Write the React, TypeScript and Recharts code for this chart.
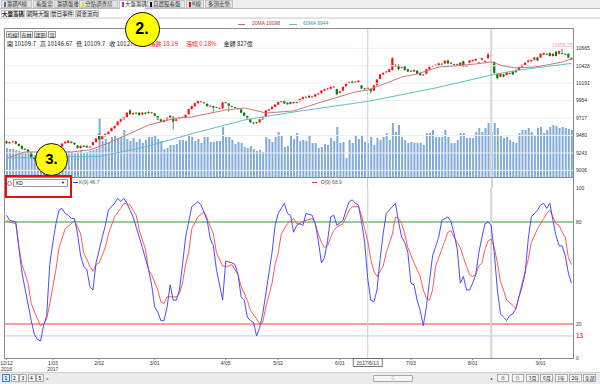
import React from 'react';
import { ComposedChart, Bar, Line, XAxis, YAxis, ReferenceLine, ReferenceDot } from 'recharts';

// ---------- DATA ----------
const opens = [
  9400, 9375, 9392, 9400, 9365, 9340, 9300, 9290, 9250, 9180,
  9160, 9190, 9175, 9210, 9230, 9250, 9270, 9300, 9330, 9375,
  9380, 9395, 9380, 9345, 9310, 9340, 9340, 9320, 9350, 9390,
  9490, 9430, 9470, 9500, 9540, 9580, 9620, 9670, 9700, 9730,
  9820, 9770, 9790, 9790, 9765, 9790, 9800, 9785, 9780, 9745,
  9700, 9665, 9700, 9720, 9735, 9680, 9710, 9725, 9730, 9770,
  9840, 9880, 9920, 9935, 9930, 9910, 9880, 9880, 9860, 9855,
  9850, 9930, 9915, 9880, 9865, 9850, 9835, 9790, 9745, 9700,
  9655, 9660, 9660, 9700, 9730, 9820, 9840, 9870, 9900, 9935,
  9950, 9925, 9935, 9920, 9935, 9945, 9975, 9995, 10020, 10000,
  10010, 10040, 10055, 10090, 10110, 10115, 10140, 10110, 10060, 10090,
  10150, 10190, 10215, 10200, 10205, 10160, 10120, 10109.7, 10110, 10090,
  10165, 10250, 10310, 10340, 10345, 10370, 10420, 10440, 10400, 10420,
  10380, 10360, 10350, 10360, 10330, 10300, 10320, 10380, 10420, 10430,
  10430, 10455, 10460, 10500, 10455, 10450, 10445, 10430, 10490, 10420,
  10470, 10490, 10500, 10460, 10510, 10480, 10530, 10570, 10480, 10320,
  10280, 10310, 10300, 10320, 10350, 10340, 10370, 10410, 10440, 10480,
  10490, 10510, 10540, 10540, 10580, 10590, 10600, 10560, 10620, 10590,
  10600, 10590, 10590, 10515,
];
const closes = [
  9375, 9390, 9400, 9370, 9340, 9300, 9290, 9250, 9180, 9160,
  9190, 9175, 9210, 9230, 9250, 9270, 9300, 9330, 9370, 9395,
  9410, 9380, 9360, 9310, 9340, 9330, 9320, 9330, 9390, 9440,
  9430, 9470, 9500, 9530, 9580, 9610, 9670, 9700, 9730, 9790,
  9770, 9785, 9780, 9760, 9790, 9775, 9785, 9795, 9750, 9700,
  9670, 9690, 9725, 9750, 9670, 9700, 9725, 9730, 9760, 9840,
  9880, 9920, 9950, 9945, 9920, 9880, 9885, 9860, 9865, 9845,
  9930, 9925, 9885, 9870, 9855, 9840, 9790, 9750, 9700, 9660,
  9645, 9650, 9700, 9730, 9820, 9835, 9870, 9900, 9935, 9945,
  9915, 9905, 9910, 9935, 9925, 9975, 10000, 10005, 9995, 10010,
  10040, 10050, 10090, 10110, 10120, 10140, 10145, 10040, 10080, 10140,
  10190, 10205, 10190, 10210, 10225, 10120, 10110, 10127.89, 10080, 10160,
  10240, 10310, 10330, 10350, 10380, 10530, 10440, 10380, 10410, 10370,
  10350, 10350, 10370, 10320, 10300, 10310, 10380, 10410, 10430, 10440,
  10460, 10450, 10495, 10460, 10470, 10440, 10450, 10470, 10420, 10430,
  10500, 10505, 10520, 10470, 10530, 10490, 10580, 10560, 10330, 10260,
  10320, 10280, 10340, 10330, 10310, 10370, 10410, 10440, 10470, 10500,
  10505, 10540, 10500, 10590, 10600, 10580, 10560, 10590, 10560, 10625,
  10590, 10580, 10540, 10535,
];
const highs = [
  9415, 9400, 9410, 9405, 9372, 9345, 9310, 9295, 9258, 9190,
  9198, 9200, 9218, 9240, 9258, 9280, 9310, 9338, 9378, 9402,
  9420, 9405, 9388, 9352, 9348, 9350, 9345, 9338, 9398, 9450,
  9510, 9478, 9508, 9538, 9590, 9618, 9678, 9710, 9738, 9800,
  9840, 9795, 9800, 9798, 9798, 9800, 9810, 9802, 9788, 9752,
  9708, 9698, 9732, 9758, 9742, 9708, 9732, 9738, 9768, 9848,
  9888, 9928, 9962, 9955, 9938, 9918, 9892, 9886, 9872, 9862,
  9938, 9940, 9922, 9888, 9872, 9858, 9842, 9798, 9752, 9708,
  9662, 9668, 9708, 9738, 9828, 9842, 9878, 9908, 9942, 9955,
  9958, 9932, 9942, 9942, 9942, 9982, 10008, 10012, 10028, 10018,
  10048, 10058, 10098, 10118, 10128, 10148, 10155, 10118, 10088, 10148,
  10198, 10212, 10222, 10218, 10232, 10168, 10128, 10146.67, 10118, 10168,
  10248, 10318, 10338, 10358, 10388, 10545, 10452, 10448, 10418, 10428,
  10388, 10368, 10378, 10368, 10338, 10318, 10388, 10418, 10438, 10448,
  10468, 10462, 10502, 10508, 10478, 10458, 10458, 10478, 10498, 10438,
  10508, 10512, 10528, 10478, 10538, 10498, 10610, 10585, 10485, 10328,
  10328, 10318, 10348, 10338, 10358, 10378, 10418, 10448, 10478, 10508,
  10512, 10548, 10548, 10598, 10608, 10598, 10608, 10598, 10628, 10632,
  10656.25, 10598, 10598, 10542,
];
const lows = [
  9365, 9368, 9385, 9360, 9330, 9290, 9280, 9240, 9165, 9140,
  9150, 9165, 9170, 9200, 9222, 9245, 9262, 9295, 9325, 9368,
  9375, 9372, 9350, 9300, 9302, 9322, 9312, 9315, 9345, 9385,
  9420, 9425, 9465, 9495, 9535, 9572, 9612, 9662, 9695, 9725,
  9762, 9760, 9772, 9750, 9758, 9768, 9778, 9778, 9742, 9692,
  9660, 9655, 9692, 9715, 9560, 9672, 9702, 9718, 9722, 9762,
  9832, 9872, 9912, 9925, 9912, 9872, 9872, 9790, 9852, 9838,
  9842, 9918, 9800, 9862, 9848, 9832, 9782, 9742, 9692, 9652,
  9630, 9640, 9652, 9692, 9722, 9812, 9832, 9862, 9892, 9928,
  9908, 9898, 9902, 9912, 9918, 9938, 9968, 9988, 9988, 9992,
  10002, 10032, 10048, 10082, 10102, 10108, 10132, 10030, 10050, 10082,
  10142, 10182, 10182, 10192, 10198, 10112, 10098, 10109.7, 10050, 10082,
  10158, 10242, 10302, 10332, 10338, 10362, 10412, 10372, 10392, 10362,
  10342, 10342, 10342, 10312, 10292, 10292, 10312, 10372, 10412, 10422,
  10422, 10442, 10452, 10452, 10448, 10432, 10438, 10422, 10412, 10412,
  10462, 10482, 10492, 10452, 10502, 10472, 10522, 10550, 10322, 10240,
  10272, 10272, 10292, 10312, 10302, 10332, 10362, 10402, 10432, 10472,
  10482, 10502, 10492, 10532, 10572, 10572, 10552, 10552, 10552, 10582,
  10582, 10572, 10532, 10508,
];
// 成交金額 (億)
const volumes = [
  493, 476, 476, 459, 442, 425, 425, 408, 391, 374,
  374, 357, 374, 391, 408, 374, 391, 408, 425, 408,
  442, 425, 408, 425, 459, 408, 425, 442, 459, 476,
  1003, 612, 646, 595, 680, 714, 646, 680, 799, 646,
  612, 663, 595, 646, 578, 629, 680, 680, 697, 646,
  612, 476, 493, 544, 544, 561, 629, 629, 612, 731,
  680, 612, 646, 578, 680, 680, 595, 595, 612, 612,
  850, 680, 680, 629, 561, 595, 578, 510, 493, 527,
  476, 442, 459, 425, 680, 646, 595, 680, 765, 714,
  510, 527, 714, 646, 748, 612, 629, 612, 714, 578,
  578, 493, 510, 561, 544, 663, 612, 850, 578, 595,
  323, 629, 578, 714, 646, 714, 595, 578, 680, 544,
  663, 629, 680, 748, 629, 918, 765, 884, 680, 629,
  578, 595, 578, 578, 578, 544, 748, 748, 799, 680,
  680, 680, 799, 680, 578, 578, 629, 748, 748, 663,
  663, 663, 765, 833, 765, 833, 918, 765, 918, 833,
  714, 663, 680, 629, 595, 578, 748, 799, 799, 833,
  765, 714, 833, 850, 748, 799, 850, 884, 867, 833,
  850, 833, 816, 799,
];
// sparse readings [day index, value]
const ma20Points = [
  [0, 9175], [6, 9257], [21, 9257], [27, 9284], [33, 9379], [41, 9528], [46, 9623],
  [55, 9718], [60, 9732], [71, 9827], [77, 9854], [80, 9827], [84, 9786], [93, 9814],
  [102, 9936], [113, 10072], [117, 10098], [124, 10207], [128, 10275], [133, 10316],
  [137, 10370], [140, 10411], [145, 10425], [152, 10452], [157, 10479], [161, 10425],
  [165, 10397], [171, 10411], [175, 10438], [180, 10479], [183, 10520],
];
const ma60Points = [
  [0, 9175], [14, 9189], [30, 9195], [41, 9290], [46, 9340], [61, 9515], [77, 9691],
  [93, 9800], [117, 9944], [139, 10126], [157, 10302], [166, 10370], [183, 10460],
];
const kPoints = [
  [0, 84], [1, 81], [3, 80], [5, 50], [8, 22], [9, 14], [10, 11], [11, 10], [12, 19], [13, 25],
  [14, 55], [15, 68], [16, 79], [17, 87], [18, 88], [19, 85], [20, 84], [21, 82], [22, 82], [23, 73],
  [24, 60], [25, 54], [26, 52], [27, 42], [28, 40], [29, 56], [31, 71], [32, 78], [33, 87], [35, 91],
  [36, 94], [37, 92], [38, 94], [39, 91], [40, 87], [41, 83], [42, 77], [44, 65], [46, 52], [47, 43],
  [48, 30], [49, 27], [50, 22], [51, 22], [52, 30], [53, 43], [54, 34], [55, 34], [56, 40], [57, 55],
  [58, 71], [60, 89], [62, 92], [63, 90], [65, 81], [66, 70], [67, 66], [68, 52], [70, 34], [71, 57],
  [73, 56], [74, 55], [75, 49], [76, 36], [77, 34], [78, 24], [79, 22], [80, 21], [81, 13], [82, 18],
  [83, 26], [85, 50], [86, 62], [87, 78], [88, 85], [89, 88], [90, 91], [91, 85], [92, 84], [93, 74],
  [94, 78], [95, 79], [96, 78], [97, 85], [99, 84], [100, 79], [101, 69], [102, 56], [103, 59], [104, 69],
  [105, 83], [106, 84], [107, 78], [109, 81], [110, 87], [111, 92], [112, 93], [113, 91], [114, 90], [115, 80],
  [116, 68], [117, 46.7], [118, 34], [119, 33], [120, 40], [121, 58], [122, 73], [123, 85], [125, 89], [126, 91],
  [127, 80], [128, 71], [129, 68], [130, 62], [131, 44], [132, 43], [133, 34], [134, 28], [135, 19], [136, 30],
  [137, 45], [138, 60], [140, 71], [141, 81], [143, 83], [144, 80], [145, 73], [146, 64], [147, 44], [148, 48],
  [149, 40], [150, 40], [151, 44], [152, 49], [153, 62], [154, 71], [155, 79], [156, 80], [157, 78], [158, 62],
  [159, 40], [160, 26], [161, 24], [162, 22], [163, 25], [164, 26], [165, 29], [166, 36], [167, 42], [168, 50],
  [169, 70], [170, 83], [172, 87], [173, 90], [174, 91], [175, 88], [176, 91], [177, 81], [178, 72], [179, 66],
  [180, 66], [181, 60], [182, 50], [183, 44],
];
const dPoints = [
  [0, 81], [1, 80], [3, 79], [4, 65], [5, 55], [7, 44], [8, 32], [10, 23], [11, 19], [12, 20],
  [13, 23], [14, 32], [16, 52], [17, 65], [19, 76], [21, 79], [22, 81], [24, 73], [25, 62], [27, 54],
  [28, 51], [29, 55], [30, 56], [32, 65], [33, 73], [35, 83], [37, 88], [38, 91], [40, 90], [42, 84],
  [43, 75], [45, 64], [46, 52], [47, 49], [49, 40], [50, 33], [51, 32], [52, 36], [54, 36], [55, 36],
  [56, 38], [57, 44], [58, 55], [59, 62], [60, 76], [62, 83], [64, 86], [65, 82], [67, 73], [68, 62],
  [70, 54], [71, 54], [72, 54], [73, 55], [75, 49], [76, 42], [78, 34], [79, 28], [81, 23], [82, 20],
  [83, 21], [84, 30], [86, 44], [87, 55], [88, 62], [89, 73], [91, 79], [93, 82], [94, 79], [95, 79],
  [97, 81], [99, 82], [100, 79], [101, 73], [102, 68], [103, 65], [104, 66], [105, 71], [106, 75], [107, 77],
  [109, 79], [110, 83], [111, 87], [112, 89], [114, 89], [115, 84], [116, 76], [117, 68.9], [118, 58], [119, 51],
  [120, 48], [121, 51], [122, 54], [123, 62], [125, 73], [126, 83], [127, 82], [128, 79], [129, 73], [130, 65],
  [132, 56], [134, 48], [135, 40], [136, 35], [137, 34], [138, 40], [139, 54], [141, 64], [143, 74], [144, 75],
  [145, 71], [146, 68], [147, 65], [148, 59], [149, 54], [150, 49], [151, 48], [152, 49], [153, 54], [154, 56],
  [155, 64], [156, 69], [157, 70], [158, 65], [159, 56], [160, 45], [161, 40], [162, 34], [164, 31], [165, 29],
  [166, 36], [167, 44], [168, 51], [169, 58], [170, 68], [172, 76], [174, 82], [175, 85], [176, 87], [177, 83],
  [178, 79], [179, 78], [180, 74], [181, 71], [182, 59], [183, 55],
];
const priceTicks = [9006, 9243, 9480, 9717, 9954, 10191, 10428, 10665];
const kdTicks = [0, 13, 20, 80, 100];
const kdLevels = { high: 80, low: 20, mark: 13 };
const dateTickIdx = [0, 15, 30, 48, 71, 88, 108, 131, 151, 173];
const dateTickLabels = ['12/12', '1/03', '2/02', '3/01', '4/05', '5/02', '6/01', '7/03', '8/01', '9/01'];
const dateTickYears = ['2016', '2017', '', '', '', '', '', '', '', ''];
const crossIdx = 117;
const crossDate = '2017/6/13';
const markIdx = 157;
const maxIdx = 180;

// ---------- rows ----------
const toMap = (pts: number[][]) => new Map(pts.map(([i, v]) => [i, v]));
const m20 = toMap(ma20Points), m60 = toMap(ma60Points), mk = toMap(kPoints), md = toMap(dPoints);
const rows = opens.map((o, i) => ({
  i, o, c: closes[i], h: highs[i], l: lows[i], range: [lows[i], highs[i]], vol: volumes[i],
  ma20: m20.has(i) ? m20.get(i) : null,
  ma60: m60.has(i) ? m60.get(i) : null,
  k: mk.has(i) ? mk.get(i) : null,
  d: md.has(i) ? md.get(i) : null,
}));

const FONT = '"Noto Sans CJK TC", "Noto Sans", sans-serif';
const NUMF = '"Liberation Sans", "DejaVu Sans", sans-serif';

const Candle = (p: any) => {
  const { x, y, width, height, payload } = p;
  if (!payload || width == null) return null;
  const top = Math.min(y, y + height), bot = Math.max(y, y + height);
  const span = payload.h - payload.l;
  const pix = (v: number) => top + ((payload.h - v) / span) * (bot - top);
  const up = payload.c >= payload.o;
  const color = up ? '#ff1010' : '#0a7a0a';
  const cx = x + width / 2;
  const bt = pix(Math.max(payload.o, payload.c));
  const bb = pix(Math.min(payload.o, payload.c));
  const bw = 2.2;
  return (
    <g>
      <line x1={cx} x2={cx} y1={top} y2={bot} stroke={color} strokeWidth={0.7} />
      <rect x={cx - bw / 2} y={bt} width={bw} height={Math.max(0.8, bb - bt)} fill={color} />
    </g>
  );
};

const KdTick = (p: any) => {
  const { x, y, payload } = p;
  const big = payload.value === kdLevels.mark;
  return (
    <text x={x} y={y} dy="0.35em" fontSize={big ? 6.5 : 5} fill={big ? '#c00000' : '#333'} fontFamily={NUMF} textAnchor="start">
      {payload.value}
    </text>
  );
};

const DateTick = (p: any) => {
  const { x, y, payload } = p;
  const k = dateTickIdx.indexOf(payload.value);
  if (k < 0) return null;
  return (
    <g>
      <text x={x} y={y + 3.5} textAnchor="middle" fontSize={5} fill="#333" fontFamily={NUMF}>{dateTickLabels[k]}</text>
      {dateTickYears[k] ? (
        <text x={x} y={y + 9.5} textAnchor="middle" fontSize={5} fill="#333" fontFamily={NUMF}>{dateTickYears[k]}</text>
      ) : null}
    </g>
  );
};

const CrossLabel = (p: any) => {
  const vb = p.viewBox || {};
  const x = vb.x, yb = (vb.y || 0) + (vb.height || 0);
  return (
    <g>
      <rect x={x - 14.5} y={yb + 0.5} width={29} height={8} fill="#fff" stroke="#555" strokeWidth={0.8} />
      <text x={x} y={yb + 6.6} textAnchor="middle" fontSize={5} fill="#333" fontFamily={NUMF}>{crossDate}</text>
    </g>
  );
};

const abs = (x: number, y: number, w: number, h: number, extra: any = {}) => ({
  position: 'absolute' as const, left: x, top: y, width: w, height: h, boxSizing: 'border-box' as const, ...extra,
});

const topTabs = [
  { x: 1, w: 31, label: '籌碼K線', mark: '#2f6fdd' },
  { x: 33, w: 20, label: '看盤室' },
  { x: 54, w: 24, label: '籌碼盤後' },
  { x: 79, w: 39, label: '分點調查局', mark: '#e6d800' },
  { x: 119, w: 27, label: '大盤籌碼', mark: '#cc22cc', sel: true },
  { x: 147, w: 38, label: '自選股看盤', mark: '#111' },
  { x: 186, w: 18, label: 'K線', mark: '#e00000' },
  { x: 205, w: 28, label: '多頭走勢' },
];
const subTabs = [
  { x: 1, w: 24, label: '大盤籌碼', sel: true },
  { x: 26, w: 23, label: '期時大盤' },
  { x: 50, w: 24, label: '當日事件' },
  { x: 75, w: 24, label: '資金流向' },
];
const smallBtn = { border: '1px solid #9a9a9a', background: '#f4f4f4', fontSize: 5, lineHeight: '5px', textAlign: 'center' as const, color: '#222', fontFamily: FONT };

const KD_TOP = 180;
const KD_PAD = 8;

export default function App() {
  return (
    <div style={{ position: 'absolute', left: 0, top: 0, width: 600, height: 384, overflow: 'hidden', background: '#fff', fontFamily: FONT }}>
      {/* tab row 1 */}
      <div style={abs(0, 0, 600, 9, { background: '#efefef', borderBottom: '1px solid #b8b8b8' })} />
      {topTabs.map((t) => (
        <div key={t.label} style={abs(t.x, 0, t.w, t.sel ? 9 : 8, { background: t.sel ? '#fff' : '#e4e4e4', border: '1px solid #c4c4c4', borderBottom: t.sel ? 'none' : '1px solid #c4c4c4', fontSize: 5.5, lineHeight: '7px', color: '#333', whiteSpace: 'nowrap', paddingLeft: 2 })}>
          {t.mark ? <span style={{ display: 'inline-block', width: 1.5, height: 5, background: t.mark, marginRight: 1.5, verticalAlign: '-1px' }} /> : null}
          {t.label}
        </div>
      ))}
      {/* tab row 2 */}
      <div style={abs(0, 9, 600, 8, { background: '#fff' })} />
      {subTabs.map((t) => (
        <div key={t.label} style={abs(t.x, 10, t.w, 8, { background: t.sel ? '#fff' : '#ececec', border: '1px solid #bdbdbd', borderBottom: 'none', fontSize: 5.5, lineHeight: '7px', color: '#222', textAlign: 'center', whiteSpace: 'nowrap', fontWeight: t.sel ? 700 : 400 })}>
          {t.label}
        </div>
      ))}
      <div style={abs(0, 17, 600, 2, { background: '#e3e3e3' })} />
      {/* MA legend */}
      <div style={abs(238, 23.5, 7, 1, { background: '#c86a6a' })} />
      <div style={abs(252, 20, 40, 7, { fontSize: 5, lineHeight: '7px', color: '#a33', fontFamily: NUMF, whiteSpace: 'nowrap' })}>20MA 10098</div>
      <div style={abs(289, 23.5, 8, 1, { background: '#5cc0c0' })} />
      <div style={abs(303, 20, 40, 7, { fontSize: 5, lineHeight: '7px', color: '#3a9a9a', fontFamily: NUMF, whiteSpace: 'nowrap' })}>60MA 9944</div>

      {/* panel frame */}
      <div style={abs(4, 28, 570, 331, { border: '1px solid #8a8a8a' })} />
      <div style={abs(4, 177, 570, 1, { background: '#8a8a8a' })} />

      {/* volume layer */}
      <div style={{ position: 'absolute', left: 0, top: 29 }}>
        <ComposedChart width={600} height={148} data={rows} margin={{ top: 0, right: 27, bottom: 0, left: 5 }} barCategoryGap={0}>
          <XAxis dataKey="i" type="category" hide />
          <YAxis yAxisId="v" domain={[0, 2516]} hide allowDataOverflow />
          <Bar yAxisId="v" dataKey="vol" fill="#80aad8" barSize={2} isAnimationActive={false} />
        </ComposedChart>
      </div>

      {/* price layer */}
      <div style={{ position: 'absolute', left: 0, top: 29 }}>
        <ComposedChart width={600} height={148} data={rows} margin={{ top: 0, right: 0, bottom: 0, left: 5 }} barCategoryGap={0}>
          <XAxis dataKey="i" type="category" hide />
          <YAxis yAxisId="p" orientation="right" width={27} domain={[8917, 10927]} ticks={priceTicks} interval={0}
            allowDataOverflow axisLine={false} tickLine={false} tickSize={0} tickMargin={3}
            tick={{ fontSize: 5, fill: '#333', fontFamily: NUMF }} />
          {priceTicks.map((t) => (
            <ReferenceLine key={t} yAxisId="p" y={t} stroke="#efefef" strokeWidth={1} />
          ))}
          <ReferenceLine yAxisId="p" x={crossIdx} stroke="#bfd0ea" strokeWidth={1} />
          <ReferenceLine yAxisId="p" x={markIdx} stroke="#d6d6d6" strokeWidth={2} />
          <Bar yAxisId="p" dataKey="range" shape={(props: any) => <Candle {...props} />} isAnimationActive={false} />
          <Line yAxisId="p" dataKey="ma20" stroke="#c47a7a" strokeWidth={1} dot={false} connectNulls isAnimationActive={false} />
          <Line yAxisId="p" dataKey="ma60" stroke="#5ec2c2" strokeWidth={1} dot={false} connectNulls isAnimationActive={false} />
          <ReferenceDot yAxisId="p" x={maxIdx} y={highs[maxIdx]} r={0} fill="none" stroke="none"
            label={{ value: String(highs[maxIdx]), position: 'top', fill: '#f29ab8', fontSize: 5, offset: 2, fontFamily: NUMF }} />
        </ComposedChart>
      </div>

      {/* buttons + OHLC text */}
      <div style={abs(6, 31, 13, 7, smallBtn)}>均線</div>
      <div style={abs(20, 31, 13, 7, smallBtn)}>布林</div>
      <div style={abs(34, 31, 13, 7, smallBtn)}>趨勢</div>
      <div style={abs(48, 31, 8, 7, smallBtn)}>設</div>
      <div style={abs(7, 39.5, 280, 8, { fontSize: 6, lineHeight: '8px', whiteSpace: 'nowrap', color: '#222' })}>
        <span>開 10109.7</span>
        <span style={{ marginLeft: 4 }}>高 10146.67</span>
        <span style={{ marginLeft: 4 }}>低 10109.7</span>
        <span style={{ marginLeft: 4 }}>收 10127.89</span>
        <span style={{ marginLeft: 8, color: '#ff2020' }}>漲跌 18.19</span>
        <span style={{ marginLeft: 8, color: '#ff2020' }}>漲幅 0.18%</span>
        <span style={{ marginLeft: 7 }}>金額 827億</span>
      </div>

      {/* KD legend row background */}
      <div style={abs(5, 178, 567, 10, { background: '#fff' })} />

      {/* KD panel */}
      <div style={{ position: 'absolute', left: 0, top: KD_TOP }}>
        <ComposedChart width={600} height={194} data={rows} margin={{ top: KD_PAD, right: 0, bottom: 0, left: 5 }}>
          <XAxis dataKey="i" type="number" domain={[-0.5, 183.5]} ticks={dateTickIdx} interval={0} allowDataOverflow
            height={16} axisLine={false} tickSize={2} tickMargin={1} tickLine={{ stroke: '#888' }} tick={(props: any) => <DateTick {...props} />} />
          <YAxis orientation="right" width={27} domain={[0, 100]} ticks={kdTicks} interval={0} allowDataOverflow
            axisLine={false} tickLine={false} tickSize={0} tickMargin={3} tick={(props: any) => <KdTick {...props} />} />
          <ReferenceLine y={kdLevels.high} stroke="#2f9a2f" strokeWidth={1.2} />
          <ReferenceLine y={kdLevels.low} stroke="#ff3c3c" strokeWidth={1.2} />
          <ReferenceLine y={kdLevels.mark} stroke="#b6cff0" strokeWidth={1} />
          <ReferenceLine x={crossIdx} stroke="#bfd0ea" strokeWidth={1} label={(props: any) => <CrossLabel {...props} />} />
          <ReferenceLine x={markIdx} stroke="#d6d6d6" strokeWidth={2} />
          <Line dataKey="d" stroke="#ff5a5a" strokeWidth={1} dot={false} connectNulls isAnimationActive={false} />
          <Line dataKey="k" stroke="#4b4bff" strokeWidth={1} dot={false} connectNulls isAnimationActive={false} />
        </ComposedChart>
      </div>
      {/* vertical markers through the KD legend row */}
      <div style={abs(367, 178, 1, 10, { background: '#bfd0ea' })} />
      <div style={abs(490.6, 178, 2, 10, { background: '#d6d6d6' })} />
      <div style={abs(7, 181, 5, 5, { border: '1px solid #888', borderRadius: '50%' })} />
      <div style={abs(13, 179, 55, 8, { border: '1px solid #9a9a9a', background: '#fff', fontSize: 5, lineHeight: '6px', paddingLeft: 2, fontFamily: NUMF })}>
        KD<span style={{ position: 'absolute', right: 2, top: 0, fontSize: 4 }}>▼</span>
      </div>
      <div style={abs(73, 181.5, 5, 1, { background: '#3333ff' })} />
      <div style={abs(79, 179, 30, 7, { fontSize: 5, lineHeight: '7px', color: '#555', fontFamily: NUMF, whiteSpace: 'nowrap' })}>K(9) 46.7</div>
      <div style={abs(312, 181.5, 5, 1, { background: '#ff3333' })} />
      <div style={abs(321, 179, 30, 7, { fontSize: 5, lineHeight: '7px', color: '#555', fontFamily: NUMF, whiteSpace: 'nowrap' })}>D(9) 68.9</div>

      {/* bottom bar */}
      <div style={abs(0, 372, 600, 12, { background: '#ececec', borderTop: '1px solid #d0d0d0' })} />
      {['1', '2', '3', '4', '5'].map((s, k) => (
        <div key={s} style={abs(2 + k * 8.5, 374, 8, 8, { border: k === 0 ? '1px solid #3b7fd0' : '1px solid #aaa', background: k === 0 ? '#dbe9fa' : '#fafafa', fontSize: 5, lineHeight: '6px', textAlign: 'center', fontFamily: NUMF })}>{s}</div>
      ))}
      <div style={abs(46, 374, 5, 8, { fontSize: 5, lineHeight: '8px', color: '#333' })}>»</div>
      <div style={abs(373, 375, 40, 7, { border: '1px solid #aaa', background: '#f6f6f6', borderRadius: 1, fontSize: 4, lineHeight: '5px', textAlign: 'center', color: '#777' })}>≡</div>
      <div style={abs(490, 374, 5, 8, { fontSize: 4, lineHeight: '8px', color: '#333' })}>◂</div>
      {[0, 1].map((k) => (
        <div key={k} style={abs(497 + k * 14.5, 374, 12, 8, { border: '1px solid #aaa', background: '#f7f7f7', fontSize: 4, lineHeight: '6px', textAlign: 'center', color: '#333' })}>{k === 0 ? '⊕' : '⊖'}</div>
      ))}
      {['3月', '6月', '1年', '2年', '全部'].map((s, k) => (
        <div key={s} style={abs(526 + k * 14.3, 374, 13, 8, { border: '1px solid #aaa', background: '#f7f7f7', fontSize: 5, lineHeight: '6px', textAlign: 'center', color: '#222' })}>{s}</div>
      ))}

      {/* annotations */}
      <div style={abs(5, 175, 67, 23, { border: '2px solid #e41010' })} />
      <div style={abs(124.5, 11.5, 35, 35, { borderRadius: '50%', background: '#ffff00', border: '1.5px solid #111', fontSize: 16, fontWeight: 700, fontFamily: NUMF, color: '#000', textAlign: 'center', lineHeight: '32px' })}>2.</div>
      <div style={abs(35, 142.5, 33, 33, { borderRadius: '50%', background: '#ffff00', border: '1.5px solid #111', fontSize: 15, fontWeight: 700, fontFamily: NUMF, color: '#000', textAlign: 'center', lineHeight: '30px' })}>3.</div>
    </div>
  );
}
